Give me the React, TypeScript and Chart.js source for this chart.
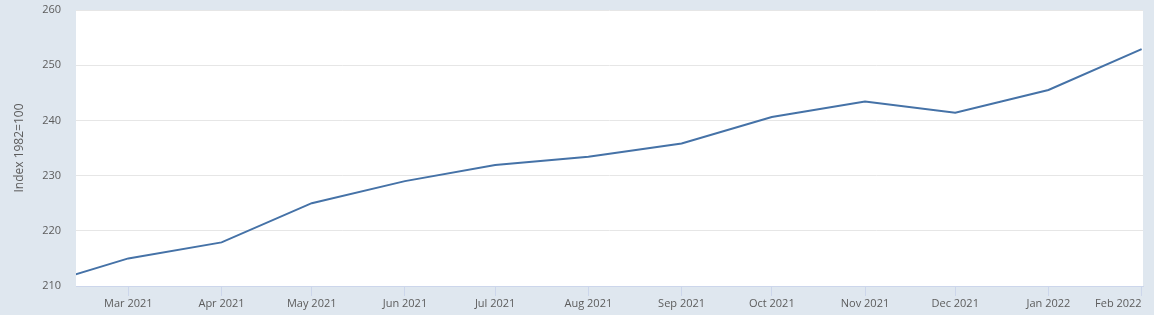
import React, { useEffect, useRef } from "react";
import { Chart, registerables } from "chart.js";

Chart.register(...registerables);

// Data
const pointDates = [
  "2021-02-01", "2021-03-01", "2021-04-01", "2021-05-01", "2021-06-01", "2021-07-01",
  "2021-08-01", "2021-09-01", "2021-10-01", "2021-11-01", "2021-12-01", "2022-01-01", "2022-02-01",
];
const indexValues = [210.4, 215.0, 217.9, 225.0, 229.0, 231.9, 233.4, 235.8, 240.6, 243.4, 241.4, 245.5, 252.9];

const tickDates = [
  "2021-03-01", "2021-04-01", "2021-05-01", "2021-06-01", "2021-07-01", "2021-08-01",
  "2021-09-01", "2021-10-01", "2021-11-01", "2021-12-01", "2022-01-01", "2022-02-01",
];
const tickLabels = [
  "Mar 2021", "Apr 2021", "May 2021", "Jun 2021", "Jul 2021", "Aug 2021",
  "Sep 2021", "Oct 2021", "Nov 2021", "Dec 2021", "Jan 2022", "Feb 2022",
];
const yTitle = "Index 1982=100";

const DAY = 86400000;
const toDay = (s: string) => {
  const [y, m, d] = s.split("-").map(Number);
  return Date.UTC(y, m - 1, d) / DAY;
};

const X_MIN = toDay("2021-02-01") + 10.6;
const X_MAX = toDay("2022-02-01") + 0.45;

const plotBg = {
  id: "plotBg",
  beforeDraw(chart: any) {
    const { ctx, chartArea } = chart;
    ctx.save();
    ctx.fillStyle = "#ffffff";
    ctx.fillRect(chartArea.left, chartArea.top, chartArea.right - chartArea.left, chartArea.bottom - chartArea.top);
    ctx.restore();
  },
};

export default function App() {
  const ref = useRef<HTMLCanvasElement>(null);
  useEffect(() => {
    if (!ref.current) return;
    Chart.defaults.font.family = "'Open Sans', sans-serif";
    const chart = new Chart(ref.current, {
      type: "line",
      data: {
        datasets: [
          {
            data: pointDates.map((d, i) => ({ x: toDay(d), y: indexValues[i] })),
            borderColor: "#4572a7",
            borderWidth: 2,
            pointRadius: 0,
            tension: 0,
            fill: false,
          },
        ],
      },
      options: {
        animation: false,
        responsive: true,
        maintainAspectRatio: false,
        events: [],
        layout: { padding: { left: 0, right: 11, top: 10, bottom: 0 } },
        plugins: { legend: { display: false }, tooltip: { enabled: false } },
        scales: {
          x: {
            type: "linear",
            min: X_MIN,
            max: X_MAX,
            afterBuildTicks: (scale: any) => {
              scale.ticks = [{ value: X_MIN }, ...tickDates.map((d) => ({ value: toDay(d) }))];
            },
            afterFit: (scale: any) => {
              scale.height = 29;
              scale.paddingLeft = 0;
              scale.paddingRight = 0;
            },
            grid: {
              drawOnChartArea: false,
              drawTicks: true,
              tickLength: 10,
              tickColor: (ctx: any) => (ctx.index === 0 ? "rgba(0,0,0,0)" : "#ccd6eb"),
              tickWidth: 1,
            },
            border: { display: true, color: "#ccd6eb", width: 1 },
            ticks: {
              autoSkip: false,
              maxRotation: 0,
              minRotation: 0,
              align: "inner",
              padding: 1,
              color: "#5c5c5c",
              font: { size: 11 },
              callback: (_v: any, index: number) => (index === 0 ? "" : tickLabels[index - 1]),
            },
          },
          y: {
            min: 210,
            max: 260,
            afterFit: (scale: any) => {
              scale.width = 76;
              scale.paddingTop = 0;
              scale.paddingBottom = 0;
            },
            grid: { color: "#e6e6e6", drawTicks: false, lineWidth: 1 },
            border: { display: false },
            ticks: {
              stepSize: 10,
              padding: 15,
              color: "#5c5c5c",
              font: { size: 11 },
            },
            title: {
              display: true,
              text: yTitle,
              color: "#5c5c5c",
              font: { size: 12 },
              padding: { top: 12, bottom: 0 },
            },
          },
        },
      },
      plugins: [plotBg],
    } as any);
    return () => chart.destroy();
  }, []);
  return (
    <div style={{ position: "fixed", left: 0, top: 0, width: 1154, height: 315, background: "#dfe7ef" }}>
      <canvas ref={ref} />
    </div>
  );
}
